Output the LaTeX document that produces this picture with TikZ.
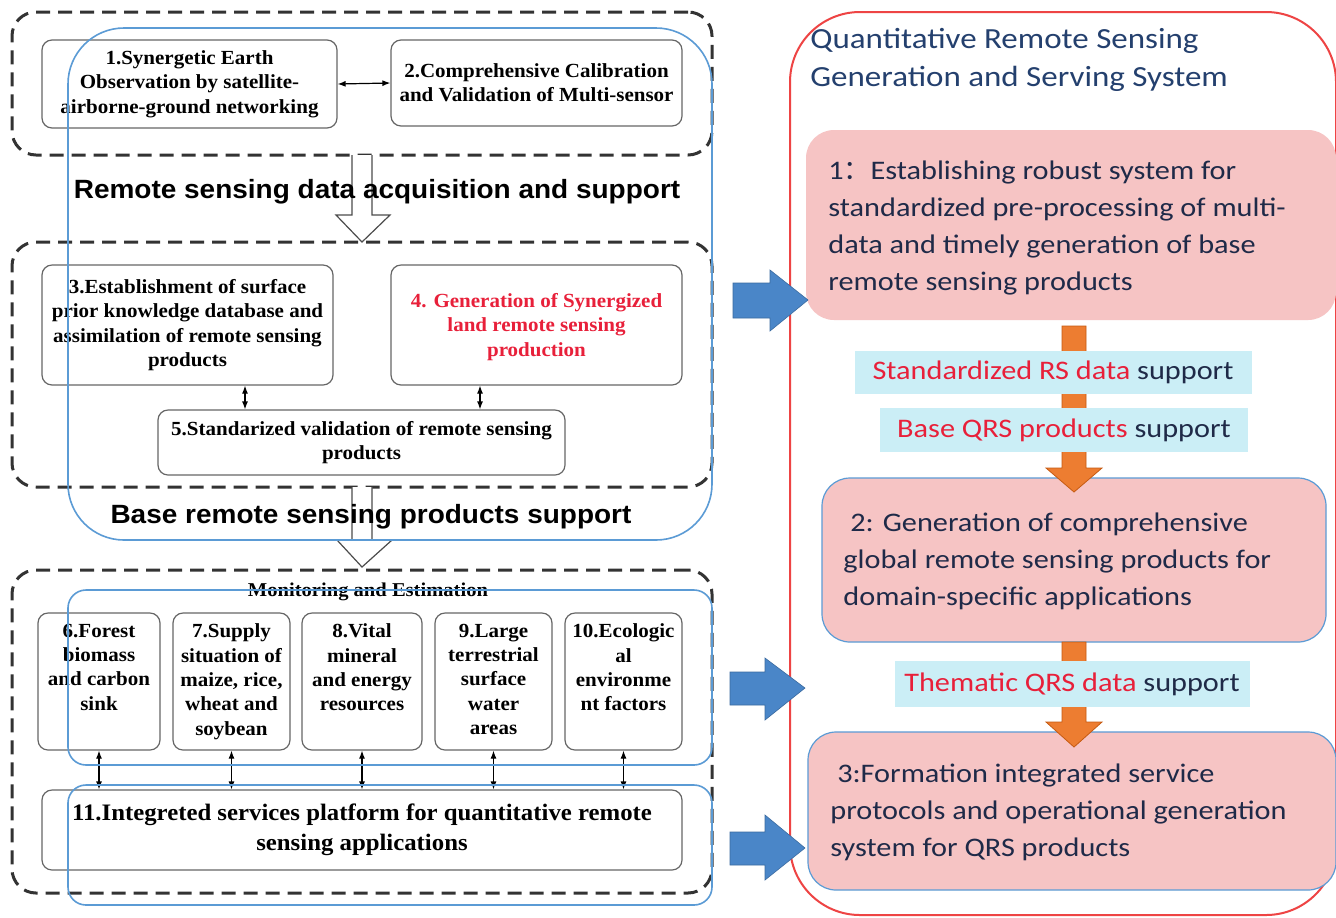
\documentclass[tikz,border=0pt]{standalone}
\usepackage{fontspec}
\setmainfont{Liberation Serif}[FakeStretch=1.05]
\newfontfamily\hdfont{Liberation Sans}[FakeStretch=1.06]
\newfontfamily\calfont{Carlito}[FakeStretch=1.13]
\newfontfamily\cjkfont{Noto Sans CJK SC}
\usetikzlibrary{fit,arrows.meta}
\definecolor{dashc}{HTML}{333333}
\definecolor{boxc}{HTML}{666666}
\definecolor{blueline}{HTML}{5B9BD5}
\definecolor{redline}{HTML}{EE4444}
\definecolor{pinkf}{HTML}{F6C4C4}
\definecolor{cyanf}{HTML}{CBEEF6}
\definecolor{redt}{HTML}{E8203A}
\definecolor{navy}{HTML}{1F2A48}
\definecolor{titlec}{HTML}{24406E}
\definecolor{orangef}{HTML}{ED7D31}
\definecolor{oranged}{HTML}{C55A11}
\definecolor{bluearr}{HTML}{4A86C8}
\begin{document}
\begin{tikzpicture}[x=0.5pt,y=-0.5pt,
  grp/.style={draw=dashc, line width=1.5pt, dash pattern=on 7pt off 4pt, rounded corners=12pt, inner sep=0pt},
  box/.style={draw=boxc, line width=0.6pt, rounded corners=5pt, inner sep=0pt, fill=white},
  btxt/.style={font=\bfseries\fontsize{10}{12.2}\selectfont, align=center, inner sep=0pt},
  hdr/.style={font=\hdfont\bfseries\fontsize{13.2}{15}\selectfont, inner sep=0pt},
  blueout/.style={draw=blueline, line width=0.8pt},
  dbl/.style={{Latex[length=4pt,width=3pt]}-{Latex[length=4pt,width=3pt]}, line width=0.6pt},
  hollow/.style={draw=gray!60!black, fill=white, line width=0.6pt},
  pinkbox/.style={fill=pinkf, rounded corners=14pt, inner sep=0pt},
  rtxt/.style={font=\calfont\fontsize{13.4}{18.5}\selectfont, text=navy, align=left, inner sep=0pt, anchor=north west},
  cyanlab/.style={fill=cyanf, inner sep=0pt, font=\calfont\fontsize{13.4}{15}\selectfont, text=navy},
  orarr/.style={fill=orangef, draw=oranged, line width=0.4pt},
  bluearrow/.style={fill=bluearr, draw=bluearr!80!black, line width=0.3pt}
]
\useasboundingbox (0,0) rectangle (1336,917);
\fill[white] (0,0) rectangle (1336,917);

% ---------- left: group 1 ----------
\node[grp, fit={(12,12)(712,155)}] (g1) {};
\node[box, fit={(42,40)(337,128)}] (b1) {};
\node[btxt] at (b1.center) {1.Synergetic Earth\\Observation by satellite-\\airborne-ground networking};
\node[box, fit={(391,40)(682,126)}] (b2) {};
\node[btxt] at (b2.center) {2.Comprehensive Calibration\\and Validation of Multi-sensor};
\draw[dbl] (b1.east) -- (b2.west);

% hollow arrow 1
\draw[hollow] (352,155) -- (352,215) -- (336,215) -- (362,242) -- (390,215) -- (372,215) -- (372,155);
\node[hdr] (h1) at (377,192) {Remote sensing data acquisition and support};

% ---------- group 2 ----------
\node[grp, fit={(12,242)(712,487)}] (g2) {};
\node[box, fit={(42,265)(333,385)}] (b3) {};
\node[btxt] at (b3.center) {3.Establishment of surface\\prior knowledge database and\\assimilation of remote sensing\\products};
\node[box, fit={(391,265)(682,385)}] (b4) {};
\node[btxt, text=redt, yshift=-1pt] at (b4.center) {4. Generation of Synergized\\land remote sensing\\production};
\node[box, fit={(158,410)(565,475)}] (b5) {};
\node[btxt] at (b5.center) {5.Standarized validation of remote sensing\\products};
\coordinate (xa) at (245,0);
\coordinate (xb) at (480,0);
\draw[dbl] (b3.south -| xa) -- (b5.north -| xa);
\draw[dbl] (b4.south -| xb) -- (b5.north -| xb);

% hollow arrow 2
\draw[hollow] (352,487) -- (352,540) -- (337,540) -- (362,567) -- (392,540) -- (372,540) -- (372,487);
\node[hdr] (h2) at (371,517) {Base remote sensing products support};

% ---------- group 3 ----------
\node[grp, fit={(12,570)(712,893)}] (g3) {};
\node[btxt, font=\bfseries\fontsize{9.8}{11}\selectfont] (mon) at (368,592) {Monitoring and Estimation};
\node[box, fit={(38,613)(160,750)}] (b6) {};
\node[box, fit={(173,613)(290,750)}] (b7) {};
\node[box, fit={(302,613)(422,750)}] (b8) {};
\node[box, fit={(435,613)(552,750)}] (b9) {};
\node[box, fit={(565,613)(682,750)}] (b10) {};
\node[btxt, anchor=north] at ([yshift=-5.5pt]b6.north) {6.Forest\\biomass\\and carbon\\sink};
\node[btxt, anchor=north] at ([yshift=-5.5pt]b7.north) {7.Supply\\situation of\\maize, rice,\\wheat and\\soybean};
\node[btxt, anchor=north] at ([yshift=-5.5pt]b8.north) {8.Vital\\mineral\\and energy\\resources};
\node[btxt, anchor=north] at ([yshift=-5.5pt]b9.north) {9.Large\\terrestrial\\surface\\water\\areas};
\node[btxt, anchor=north] at ([yshift=-5.5pt]b10.north) {10.Ecologic\\al\\environme\\nt factors};
\node[box, fit={(42,790)(682,870)}] (b11) {};
\node[btxt, font=\bfseries\fontsize{11.8}{15}\selectfont] at (b11.center) {11.Integreted services platform for quantitative remote\\sensing applications};
\foreach \b in {b6,b7,b8,b9,b10}{
  \draw[dbl] (\b.south) -- (\b.south |- b11.north);
}

% blue outlines
\draw[blueout, rounded corners=28pt] (68,28) rectangle (712,540);
\draw[blueout, rounded corners=9pt] (68,590) rectangle (712,765);
\draw[blueout, rounded corners=9pt] (68,785) rectangle (712,905);

% ---------- right side ----------
\node[draw=redline, line width=1pt, rounded corners=35pt, inner sep=0pt, fit={(790,12)(1336,915)}] (sys) {};
\node[font=\calfont\fontsize{14.6}{19}\selectfont, text=titlec, align=left, inner sep=0pt, anchor=north west] (title) at (810,28) {Quantitative Remote Sensing\\Generation and Serving System};

\node[pinkbox, fit={(806,130)(1336,320)}] (p1) {};
\node[rtxt] at (828,160) {1{\cjkfont ：}Establishing robust system for\\standardized pre-processing of multi-\\data and timely generation of base\\remote sensing products};

\node[pinkbox, draw=blueline, line width=0.6pt, fit={(822,478)(1326,642)}] (p2) {};
\node[rtxt] at (843,512) {\ 2: Generation of comprehensive\\global remote sensing products for\\domain-specific applications};

\node[pinkbox, draw=blueline, line width=0.6pt, fit={(808,732)(1336,890)}] (p3) {};
\node[rtxt] at (830,763) {\ 3:Formation integrated service\\protocols and operational generation\\system for QRS products};

% orange arrows
\draw[orarr] (1062,326) -- (1062,468) -- (1046,468) -- (1074,492) -- (1102,468) -- (1086,468) -- (1086,326) -- cycle;
\draw[orarr] (1062,642) -- (1062,722) -- (1046,722) -- (1074,747) -- (1102,722) -- (1086,722) -- (1086,642) -- cycle;

% cyan labels
\node[cyanlab, minimum width=198.5pt, minimum height=21.5pt] (l1) at (1053,372) {\textcolor{redt}{Standardized RS data} support};
\node[cyanlab, minimum width=184pt, minimum height=22pt] (l2) at (1064,430) {\textcolor{redt}{Base QRS products} support};
\node[cyanlab, minimum width=177.5pt, minimum height=23pt] (l3) at (1072,684) {\textcolor{redt}{Thematic QRS data} support};

% blue block arrows
\draw[bluearrow] (733,283) -- (770,283) -- (770,270) -- (808,300) -- (770,331) -- (770,318) -- (733,318) -- cycle;
\draw[bluearrow] (730,672) -- (765,672) -- (765,658) -- (805,688) -- (765,720) -- (765,705) -- (730,705) -- cycle;
\draw[bluearrow] (730,832) -- (765,832) -- (765,815) -- (805,848) -- (765,880) -- (765,865) -- (730,865) -- cycle;
\end{tikzpicture}
\end{document}
